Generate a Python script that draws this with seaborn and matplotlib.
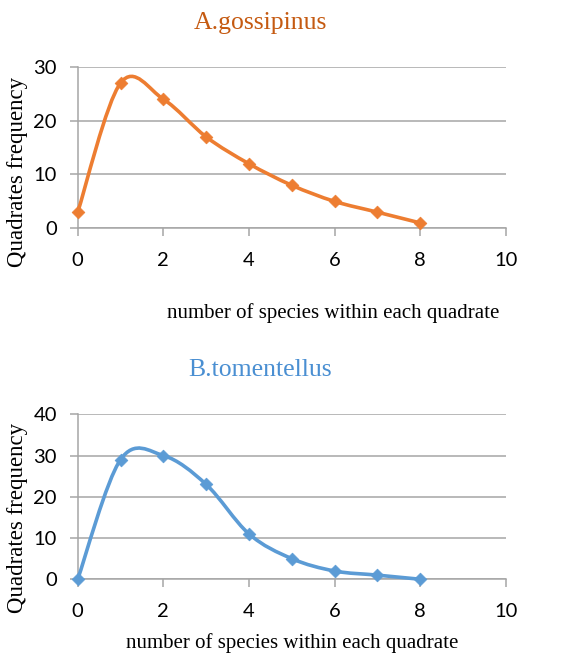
import numpy as np
import pandas as pd
import matplotlib
matplotlib.use("Agg")
import matplotlib.pyplot as plt
from matplotlib.path import Path
from matplotlib.patches import PathPatch
import seaborn as sns

# values
species_count = [0, 1, 2, 3, 4, 5, 6, 7, 8]
freq_gossipinus = [3, 27, 24, 17, 12, 8, 5, 3, 1]
freq_tomentellus = [0, 29, 30, 23, 11, 5, 2, 1, 0]
titles = ["A.gossipinus", "B.tomentellus"]
line_colors = ["#ED7D31", "#5B9BD5"]
title_colors = ["#C55A11", "#4A8FD2"]
y_limits = [30, 40]
x_ticks = [0, 2, 4, 6, 8, 10]

sns.set_style("white")
plt.rcParams['font.family'] = ['Lato', 'DejaVu Sans']

SERIF = ['Liberation Serif', 'DejaVu Serif']
GRID = "#A6A6A6"


def smooth_path(x, y):
    # Excel-like smoothed line: cubic Bezier segments (Catmull-Rom control points)
    pts = np.column_stack([x, y]).astype(float)
    n = len(pts)
    verts = [pts[0]]
    codes = [Path.MOVETO]
    for i in range(n - 1):
        p_prev = pts[i - 1] if i > 0 else pts[i]
        p_next2 = pts[i + 2] if i + 2 < n else pts[i + 1]
        c1 = pts[i] + (pts[i + 1] - p_prev) / 6.0
        c2 = pts[i + 1] - (p_next2 - pts[i]) / 6.0
        verts += [c1, c2, pts[i + 1]]
        codes += [Path.CURVE4] * 3
    return Path(verts, codes)


fig = plt.figure(figsize=(5.8, 6.56), dpi=100)
ax_top = fig.add_axes([0.134, 0.652, 0.738, 0.246])
ax_bot = fig.add_axes([0.134, 0.117, 0.738, 0.2515])

frames = [
    pd.DataFrame({"x": species_count, "y": freq_gossipinus}),
    pd.DataFrame({"x": species_count, "y": freq_tomentellus}),
]
title_pos = [(0.426, 1.273), (0.426, 1.268)]
xlabel_pos = [(0.597, -0.525), (0.50, -0.386)]
ylabel_pos = [(-0.140, 0.351), (-0.140, 0.37)]

for k, ax in enumerate([ax_top, ax_bot]):
    df = frames[k]
    col = line_colors[k]
    patch = PathPatch(smooth_path(df["x"], df["y"]), facecolor="none",
                      edgecolor=col, lw=2.6, zorder=3, clip_on=False)
    ax.add_patch(patch)
    sns.scatterplot(data=df, x="x", y="y", ax=ax, marker="D", s=42,
                    color=col, edgecolor=col, zorder=4, clip_on=False,
                    legend=False)

    ax.set_xlim(0, 10)
    ax.set_ylim(0, y_limits[k])
    ax.set_xticks(x_ticks)
    ax.set_yticks(np.arange(0, y_limits[k] + 1, 10))
    ax.yaxis.grid(True, color=GRID, lw=1.1)
    ax.xaxis.grid(False)
    ax.set_axisbelow(True)
    for s in ["top", "right"]:
        ax.spines[s].set_visible(False)
    for s in ["left", "bottom"]:
        ax.spines[s].set_color(GRID)
        ax.spines[s].set_linewidth(1.1)
    ax.tick_params(axis="x", length=6, width=1.1, color=GRID, pad=11,
                   labelsize=14.5, labelcolor="black", direction="out", bottom=True)
    ax.tick_params(axis="y", length=6, width=1.1, color=GRID, pad=9,
                   labelsize=14.5, labelcolor="black", direction="out", left=True)

    ax.text(title_pos[k][0], title_pos[k][1], titles[k], transform=ax.transAxes,
            ha="center", va="center", fontsize=18.5, color=title_colors[k],
            family=SERIF)
    ax.set_xlabel("number of species within each quadrate", fontsize=15,
                  family=SERIF, color="black")
    ax.xaxis.label.set_va("center")
    ax.xaxis.set_label_coords(*xlabel_pos[k])
    ax.set_ylabel("Quadrates frequency", fontsize=16.5, family=SERIF,
                  color="black")
    ax.yaxis.label.set_va("center")
    ax.yaxis.set_label_coords(*ylabel_pos[k])

fig.savefig("out.png", dpi=100)
